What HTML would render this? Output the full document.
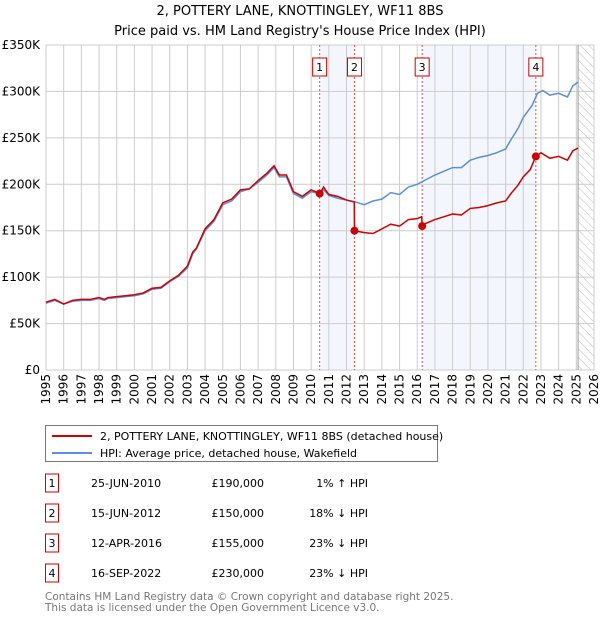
<!DOCTYPE html>
<html><head><meta charset="utf-8"><style>
body{margin:0;background:#fff;font-family:"DejaVu Sans","Liberation Sans",sans-serif;}
svg text{font-family:"DejaVu Sans","Liberation Sans",sans-serif;}
</style></head><body>
<svg id="chart" width="600" height="620" xmlns="http://www.w3.org/2000/svg">
<defs><pattern id="hatch" width="6" height="6" patternUnits="userSpaceOnUse" patternTransform="rotate(-45)"><line x1="0" y1="0" x2="0" y2="6" stroke="#bbb" stroke-width="1"/></pattern></defs>
<text x="300" y="15" text-anchor="middle" font-size="13">2, POTTERY LANE, KNOTTINGLEY, WF11 8BS</text>
<text x="300" y="35" text-anchor="middle" font-size="13">Price paid vs. HM Land Registry's House Price Index (HPI)</text>
<g id="plot"></g>
<g>
<rect x="45.5" y="425.5" width="392" height="36" fill="#fff" stroke="#777"/>
<line x1="52" y1="436" x2="92" y2="436" stroke="#cc0000" stroke-width="2"/>
<text x="100" y="440" font-size="11">2, POTTERY LANE, KNOTTINGLEY, WF11 8BS (detached house)</text>
<line x1="52" y1="453" x2="92" y2="453" stroke="#5b8fd6" stroke-width="2"/>
<text x="100" y="457" font-size="11">HPI: Average price, detached house, Wakefield</text>
</g>
<g id="table" font-size="11"></g>
<text x="45" y="600" font-size="10.5" fill="#777">Contains HM Land Registry data © Crown copyright and database right 2025.</text>
<text x="45" y="611" font-size="10.5" fill="#777">This data is licensed under the Open Government Licence v3.0.</text>
</svg>
<script>
const hpiYears=[1995,1995.5,1996,1996.5,1997,1997.5,1998,1998.3,1998.5,1999,1999.5,2000,2000.5,2001,2001.5,2002,2002.5,2003,2003.3,2003.5,2004,2004.5,2005,2005.5,2006,2006.5,2007,2007.5,2007.9,2008.2,2008.6,2009,2009.5,2010,2010.5,2010.7,2011,2011.5,2012,2012.5,2013,2013.5,2014,2014.5,2015,2015.5,2016,2016.5,2017,2017.5,2018,2018.5,2019,2019.5,2020,2020.5,2021,2021.3,2021.7,2022,2022.5,2022.8,2023.1,2023.5,2024,2024.5,2024.8,2025.1];
const hpiValues=[72,75,71,74,75,75,77,75,77,78,79,80,82,87,88,95,101,110,125,130,150,160,178,182,192,195,202,210,218,208,208,190,185,192,190,194,188,185,183,181,178,182,184,191,189,197,200,205,210,214,218,218,226,229,231,234,238,248,260,272,285,298,301,296,298,294,306,310];
const paidYears=[1995,1995.5,1996,1996.5,1997,1997.5,1998,1998.3,1998.5,1999,1999.5,2000,2000.5,2001,2001.5,2002,2002.5,2003,2003.3,2003.5,2004,2004.5,2005,2005.5,2006,2006.5,2007,2007.5,2007.9,2008.2,2008.6,2009,2009.5,2010,2010.5,2010.7,2011,2011.5,2012,2012.44,2012.45,2013,2013.5,2014,2014.5,2015,2015.5,2016,2016.25,2016.28,2016.5,2017,2017.5,2018,2018.5,2019,2019.5,2020,2020.5,2021,2021.3,2021.7,2022,2022.4,2022.7,2023,2023.5,2024,2024.5,2024.8,2025.1];
const paidValues=[73,76,71,75,76,76,78,76,78,79,80,81,83,88,89,96,102,112,127,131,152,162,180,184,194,195,204,212,220,210,210,192,187,194,190,197,189,187,183,181,150,148,147,152,157,155,162,163,165,155,158,162,165,168,167,174,175,177,180,182,190,199,208,216,230,234,228,230,226,236,239];
const saleYears=[2010.48,2012.45,2016.28,2022.71];
const salePrices=[190,150,155,230];
const saleLabels=["1","2","3","4"];
const saleDates=["25-JUN-2010","15-JUN-2012","12-APR-2016","16-SEP-2022"];
const salePriceText=["£190,000","£150,000","£155,000","£230,000"];
const saleHpiText=["1% ↑ HPI","18% ↓ HPI","23% ↓ HPI","23% ↓ HPI"];
const yTicks=[0,50,100,150,200,250,300,350];
const yTickLabels=["£0","£50K","£100K","£150K","£200K","£250K","£300K","£350K"];
const xTicks=[1995,1996,1997,1998,1999,2000,2001,2002,2003,2004,2005,2006,2007,2008,2009,2010,2011,2012,2013,2014,2015,2016,2017,2018,2019,2020,2021,2022,2023,2024,2025,2026];

const NS="http://www.w3.org/2000/svg";
const L=46,R=594,T=45,B=370;
const xs=v=>L+(v-1995)/(2026-1995)*(R-L);
const ys=v=>B-v/350*(B-T);
const g=document.getElementById('plot');
function mk(tag,attrs,parent){const e=document.createElementNS(NS,tag);for(const k in attrs)e.setAttribute(k,attrs[k]);(parent||g).appendChild(e);return e;}

let e;
e=mk('rect',{x:xs(saleYears[0]),y:T,width:xs(saleYears[1])-xs(saleYears[0]),height:B-T,fill:'#eef3fc',opacity:0.7});


e=mk('rect',{x:xs(saleYears[2]),y:T,width:xs(saleYears[3])-xs(saleYears[2]),height:B-T,fill:'#eef3fc',opacity:0.7});


e=mk('rect',{x:xs(2025.1),y:T,width:R-xs(2025.1),height:B-T,fill:'url(#hatch)'});



yTicks.forEach((t,i)=>{
 mk('line',{x1:L,x2:R,y1:ys(t),y2:ys(t),stroke:'#ccc','stroke-width':1});
 e=mk('text',{x:L-6,y:ys(t)+4,'text-anchor':'end','font-size':12});
 e.textContent=yTickLabels[i];
 
 
});
xTicks.forEach(t=>{
 mk('line',{x1:xs(t),x2:xs(t),y1:T,y2:B,stroke:'#ccc','stroke-width':1});
 e=mk('text',{x:0,y:0,'text-anchor':'end','font-size':12,transform:`translate(${xs(t)+4},${B+4}) rotate(-90)`});
 e.textContent=t;
 
 
});
mk('line',{x1:xs(2025.1),x2:xs(2025.1),y1:T,y2:B,stroke:'#999','stroke-width':1});

saleYears.forEach((y,i)=>{
 e=mk('line',{x1:xs(y),x2:xs(y),y1:T,y2:B,stroke:'#e05050','stroke-width':1,'stroke-dasharray':'2,2'});
 
 
 mk('rect',{x:xs(y)-7,y:58,width:14,height:18,fill:'#fff',stroke:'#cc0000'});
 e=mk('text',{x:xs(y),y:71,'text-anchor':'middle','font-size':11});
 e.textContent=saleLabels[i];
 
 
});

e=mk('polyline',{points:hpiYears.map((y,i)=>xs(y)+','+ys(hpiValues[i])).join(' '),fill:'none',stroke:'#5b8fd6','stroke-width':1.5});


e=mk('polyline',{points:paidYears.map((y,i)=>xs(y)+','+ys(paidValues[i])).join(' '),fill:'none',stroke:'#cc0000','stroke-width':1.5});


saleYears.forEach((y,i)=>{
 e=mk('circle',{cx:xs(y),cy:ys(salePrices[i]),r:4,fill:'#cc0000'});
 
 
});

const tb=document.getElementById('table');
saleLabels.forEach((l,i)=>{
 const cy=484+i*30;
 mk('rect',{x:45.5,y:cy-10,width:13,height:18,fill:'#fff',stroke:'#cc0000'},tb);
 e=mk('text',{x:52,y:cy+3,'text-anchor':'middle'},tb);e.textContent=l;
 
 
 e=mk('text',{x:91,y:cy+3},tb);e.textContent=saleDates[i];
 
 
 e=mk('text',{x:264,y:cy+3,'text-anchor':'end'},tb);e.textContent=salePriceText[i];
 
 
 e=mk('text',{x:368,y:cy+3,'text-anchor':'end'},tb);e.textContent=saleHpiText[i];
 
 
});
</script>
</body></html>
